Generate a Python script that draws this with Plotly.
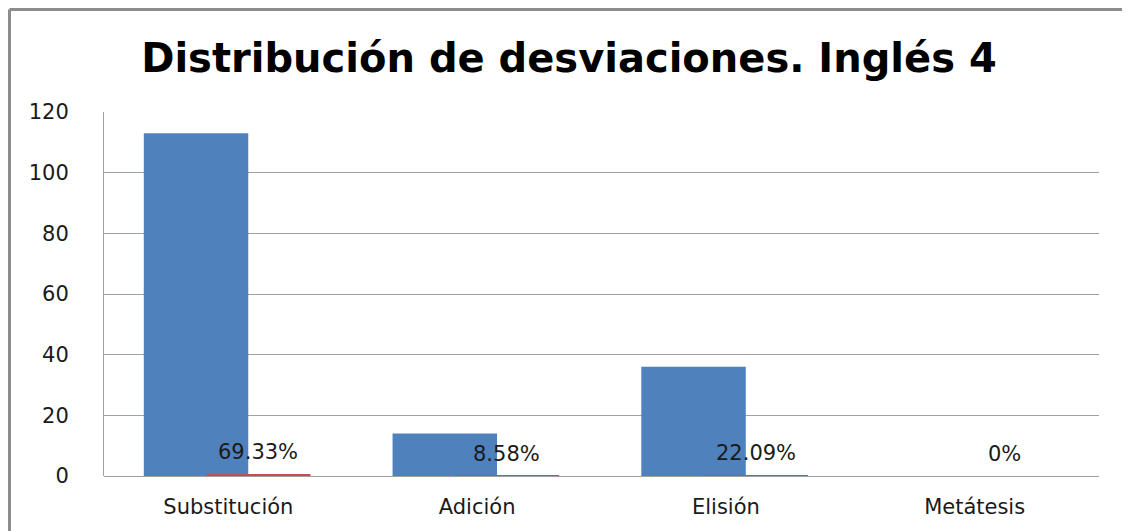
import plotly.graph_objects as go

# Data
categorias = ["Substitución", "Adición", "Elisión", "Metátesis"]
desviaciones = [113, 14, 36, 0]
porcentajes = [69.33, 8.58, 22.09, 0]
etiquetas = ["69.33%", "8.58%", "22.09%", "0%"]

AZUL = "#4F81BD"
ROJO = "#C0504D"
GRIS = "#8C8C8C"
FUENTE = "DejaVu Sans"

W, H = 1122, 523          # page adds an 8px body margin
ML, MR, MT, MB = 96, 31, 104, 55

pos = list(range(len(categorias)))

fig = go.Figure()

# Blue series: raw counts
fig.add_trace(go.Bar(
    x=pos,
    y=desviaciones,
    width=0.42,
    offset=-0.34,
    marker=dict(color=AZUL, line=dict(width=0)),
    showlegend=False,
    hoverinfo="y",
))

# Red series: percentages (as fractions, nearly flat against the axis)
fig.add_trace(go.Bar(
    x=pos,
    y=[p / 100 for p in porcentajes],
    width=0.42,
    offset=-0.09,
    marker=dict(color=ROJO, line=dict(width=0)),
    showlegend=False,
    hoverinfo="text",
    text=etiquetas,
    textposition="none",
))

# Percent labels above the red bars
for i, (p, lab) in enumerate(zip(porcentajes, etiquetas)):
    fig.add_annotation(
        x=i + 0.12, y=p / 100, text=lab, showarrow=False,
        xanchor="center", yanchor="bottom", yshift=8,
        font=dict(family=FUENTE, size=21, color="#1a1a1a"),
    )

# Chart frame (top and left edges, as in the original)
pw, ph = W - ML - MR, H - MT - MB
x_izq = (1.5 - ML) / pw
y_sup = (H - MB - 1.5) / ph
fig.add_shape(type="line", xref="paper", yref="paper",
              x0=x_izq, x1=(W - ML) / pw + 0.02, y0=y_sup, y1=y_sup,
              line=dict(color=GRIS, width=3))
fig.add_shape(type="line", xref="paper", yref="paper",
              x0=x_izq, x1=x_izq, y0=y_sup, y1=-MB / ph - 0.05,
              line=dict(color=GRIS, width=3))

fig.update_layout(
    width=W,
    height=H,
    margin=dict(l=ML, r=MR, t=MT, b=MB),
    paper_bgcolor="white",
    plot_bgcolor="white",
    barmode="overlay",
    title=dict(
        text="<b>Distribución de desviaciones. Inglés 4</b>",
        x=0.5, xanchor="center",
        y=0.905, yanchor="middle",
        font=dict(family=FUENTE, size=40, color="black"),
    ),
    font=dict(family=FUENTE, size=21, color="#1a1a1a"),
)

fig.update_xaxes(
    range=[-0.5, 3.5],
    tickmode="array",
    tickvals=pos,
    ticktext=categorias,
    showgrid=False,
    zeroline=False,
    showline=False,
    ticks="",
    ticklabelstandoff=16,
    tickfont=dict(family=FUENTE, size=21, color="#1a1a1a"),
)

fig.update_yaxes(
    range=[0, 120],
    dtick=20,
    showgrid=True,
    gridcolor="#A0A0A0",
    gridwidth=1,
    zeroline=True,
    zerolinecolor="#A0A0A0",
    zerolinewidth=1,
    showline=True,
    linecolor="#A0A0A0",
    linewidth=1,
    ticks="",
    ticklabelstandoff=30,
    tickfont=dict(family=FUENTE, size=21, color="#1a1a1a"),
)

fig.write_html("out.html")
